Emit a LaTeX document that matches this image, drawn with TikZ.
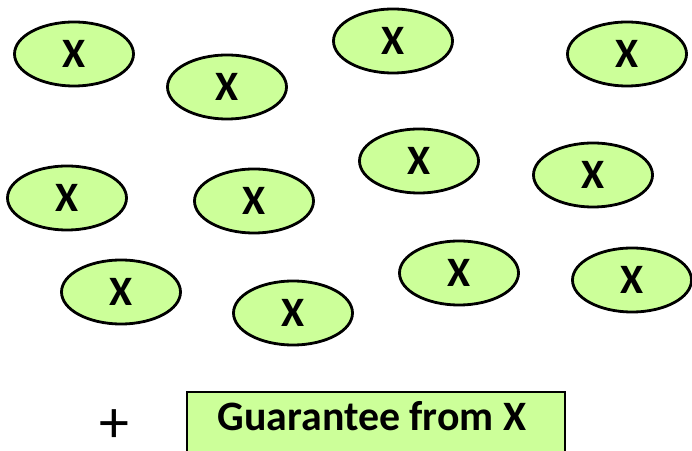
\documentclass[tikz,border=0pt]{standalone}
\usepackage{fontspec}
\setmainfont{Carlito}
\usepackage{tikz}
\usetikzlibrary{shapes.geometric}
\definecolor{lightgreen}{HTML}{CCFF99}
\tikzset{>=latex}

\begin{document}
\begin{tikzpicture}[x=1bp, y=-1bp,
    party/.style={ellipse, draw=black, line width=2.8bp, fill=lightgreen,
        minimum width=119bp, minimum height=64bp, inner sep=0pt,
        font=\fontsize{42}{42}\selectfont\bfseries},
    guarantee/.style={rectangle, draw=black, line width=2.8bp, fill=lightgreen,
        minimum width=378bp, minimum height=66bp, inner sep=0pt}]
    \useasboundingbox (0,0) rectangle (692,451);

    % the crowd of parties
    \foreach \px/\py [count=\k] in {74/54, 227/87, 393/41, 627/54,
                                    67/198, 254/201, 419/161, 593/175,
                                    121/292, 293/313, 459/273, 632/280}
    {
    \node[party] (x\k) at (\px,\py) {X};
    }

    % plus the guarantee
    \node[inner sep=0pt, text height=24bp, text depth=0pt,
          font=\fontsize{60}{60}\selectfont] (plus) at (114,430) {+};
    \node[guarantee] (gx) at (376,425) {};
    \node[font=\fontsize{42}{42}\selectfont\bfseries] (gxtext) at (372,416) {Guarantee from X};
\end{tikzpicture}
\end{document}
